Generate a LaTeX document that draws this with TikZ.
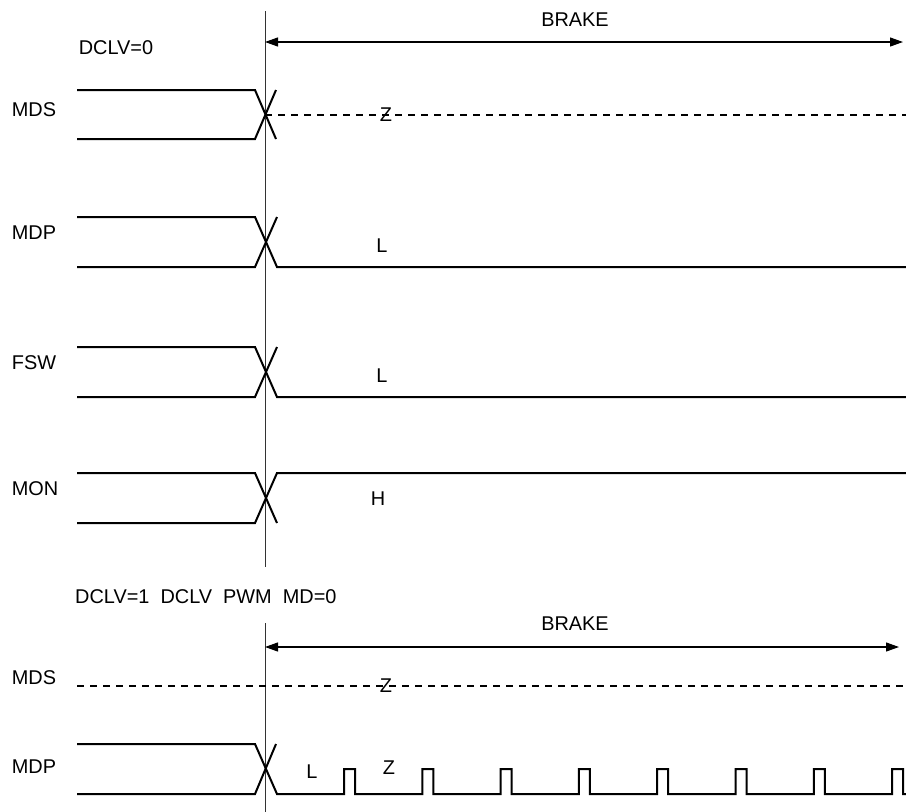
\documentclass[tikz,border=0pt]{standalone}
\usepackage{fontspec}
\setmainfont{Liberation Sans}
\usetikzlibrary{arrows.meta}
\tikzset{
  sig/.style={line width=2pt,line join=miter},
  zline/.style={line width=2.2pt,dash pattern=on 7pt off 6pt},
  span/.style={line width=1.2pt,{Triangle[length=13pt,width=9pt]}-{Triangle[length=13pt,width=9pt]}},
  mark line/.style={line width=0.8pt,black!80},
  lbl/.style={font=\fontsize{19.9}{23}\selectfont,inner sep=0pt},
}

\begin{document}
\begin{tikzpicture}[x=1pt,y=-1pt]
\useasboundingbox (0,0) rectangle (906,812);
\draw[mark line] (265,11) -- (265,567);
\draw[mark line] (265,623) -- (265,812);
\node[lbl] (dclv0) at (116,48) {DCLV=0};
\node[lbl] (brakeA) at (575,20) {BRAKE};
\coordinate (brakeAl) at (265,42);
\coordinate (brakeAr) at (903,42);
\draw[span] (brakeAl) -- (brakeAr);
\node[lbl] (mdsA) at (34,110) {MDS};
\draw[sig] (77,90) -- (255,90) -- (276,139);
\draw[sig] (77,139) -- (255,139) -- (276,90);
\draw[zline] (265,115) -- (906,115);
\node[lbl] (zA) at (386,115) {Z};
\foreach \name/\y in {MDP/217,FSW/347} {
  \node[lbl] (lbl\name) at (34,\y+16) {\name};
  \draw[sig] (77,\y) -- (255,\y) -- (277,\y+50) -- (906,\y+50);
  \draw[sig] (77,\y+50) -- (255,\y+50) -- (277,\y);
  \node[lbl] (lvl\name) at (382,\y+29) {L};
}
\node[lbl] (mon) at (35,489) {MON};
\draw[sig] (77,473) -- (255,473) -- (277,523);
\draw[sig] (77,523) -- (255,523) -- (277,473) -- (906,473);
\node[lbl] (lvlMON) at (378,499) {H};
\node[lbl,anchor=west] (dclv1) at (75,597) {DCLV=1\ \ DCLV\ \ PWM\ \ MD=0};
\node[lbl] (brakeB) at (575,624) {BRAKE};
\coordinate (brakeBl) at (265,647);
\coordinate (brakeBr) at (899,647);
\draw[span] (brakeBl) -- (brakeBr);
\node[lbl] (mdsB) at (34,678) {MDS};
\draw[zline] (77,686) -- (906,686);
\node[lbl] (zB) at (386,686) {Z};
\node[lbl] (mdpB) at (34,767) {MDP};
\draw[sig] (77,794) -- (255,794) -- (276,744);
\draw[sig] (77,744) -- (255,744) -- (277,794)
  \foreach \i in {0,...,7} { -- ({344+78.3*\i},794) -- ++(0,-25) -- ++(11,0) -- ++(0,25) }
  -- (906,794);
\node[lbl] (lvlB) at (312,772) {L};
\node[lbl] (zC) at (389,768) {Z};
\end{tikzpicture}
\end{document}
